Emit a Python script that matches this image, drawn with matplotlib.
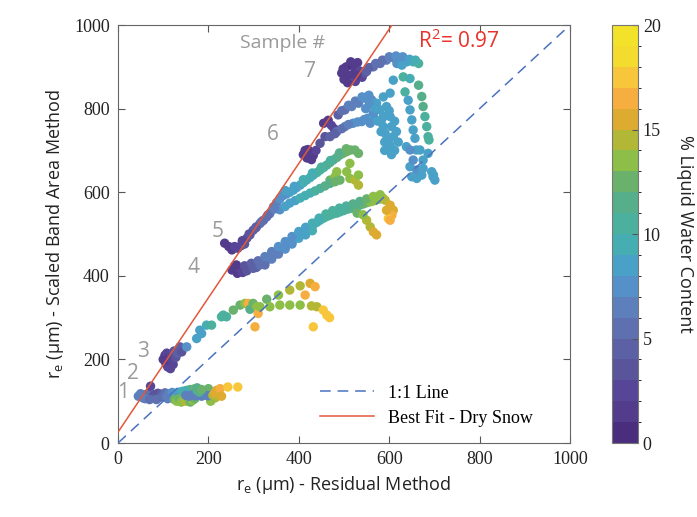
import matplotlib.pyplot as plt
from matplotlib.colors import ListedColormap, BoundaryNorm
from matplotlib.lines import Line2D

# colours of the 20 colorbar bins (0-1 ... 19-20)
bin_colors = ["#4b2d7e", "#533c8c", "#574697", "#5a549b", "#5c60a5",
              "#5e70b0", "#5d80bd", "#5590c8", "#4aa1c8", "#46adb3",
              "#4cb09e", "#56ae8a", "#6ab26c", "#8cbe48", "#b2b836",
              "#dcab30", "#f7ae40", "#f8c63a", "#f3dc2e", "#f2e22a"]

# sample 1 (lower band)
x1 = [45, 50, 55, 58, 62, 66, 70, 72, 76, 80, 84, 88, 92, 96, 100, 104, 108,
      112, 116, 120, 124, 128, 132, 136, 140, 144, 148, 152, 156, 160, 165, 170,
      60, 70, 85, 110, 130, 150, 175, 190, 200, 215, 205]
y1 = [112, 118, 108, 115, 110, 118, 113, 136, 108, 116, 111, 119, 109, 117,
      112, 120, 110, 118, 113, 121, 111, 119, 114, 122, 116, 124, 118, 126,
      121, 128, 124, 130,
      106, 104, 104, 106, 108, 124, 132, 124, 130, 108, 100]
w1 = [6, 6, 6, 6, 6, 5, 5, 2, 4, 3, 4, 3, 4, 4, 5, 5, 6, 6, 6, 7, 7, 8, 8, 8,
      9, 9, 10, 10, 10, 11, 11, 12,
      6, 5, 5, 6, 7, 9, 11, 11, 12, 14, 13]

# sample 2
x2 = [125, 130, 135, 140, 145, 150, 155, 160, 165, 170, 150, 157, 164, 171,
      178, 185, 192, 199, 206, 175, 180, 185, 210, 214, 218, 222, 226, 229,
      243, 265]
y2 = [104, 100, 106, 98, 103, 100, 105, 98, 102, 106, 114, 112, 115, 113,
      114, 112, 115, 113, 114, 126, 122, 128, 114, 120, 126, 118, 130, 112,
      134, 134]
w2 = [12, 13, 12, 13, 13, 14, 13, 12, 13, 12, 6, 6, 6, 6, 6, 6, 6, 6, 6, 11,
      11, 12, 14, 15, 15, 15, 16, 15, 17, 17]

# sample 3
x3 = [100, 104, 106, 108, 110, 112, 114, 116, 118, 120, 122, 124, 128, 132,
      137, 141, 152, 174, 185, 181, 196, 207, 229, 233, 240, 255, 270, 281,
      288, 292, 299, 307, 310, 303, 314, 329, 336, 355, 358, 380, 380, 403,
      403, 414, 425, 428, 436, 440, 454, 462, 468, 432]
y3 = [200, 210, 190, 215, 182, 205, 195, 178, 212, 200, 188, 220, 205, 215,
      230, 218, 230, 250, 262, 270, 282, 282, 302, 306, 302, 318, 330, 334,
      334, 320, 334, 326, 310, 278, 326, 344, 326, 354, 330, 366, 330, 376,
      330, 354, 382, 328, 374, 326, 318, 306, 300, 278]
w3 = [1, 1, 1, 2, 2, 1, 1, 2, 2, 2, 2, 3, 3, 4, 4, 3, 7, 8, 8, 8, 9, 10, 10,
      10, 10, 12, 12, 13, 16, 11, 12, 13, 16, 16, 13, 12, 13, 13, 13, 14, 13,
      14, 13, 16, 15, 14, 16, 14, 17, 17, 17, 17]

# sample 4
x4 = [252, 258, 264, 270, 276, 285, 290, 299, 306, 314, 321, 329, 336, 344,
      351, 358, 366, 373, 380, 388, 395, 403, 410, 417, 425, 432, 440, 447,
      455, 462, 469, 476, 484, 491, 499, 506, 513, 520, 528, 535, 543, 550,
      558, 565, 572, 580, 586, 591, 602, 609, 606, 598, 594, 602, 550, 558,
      565, 572, 529, 542, 325, 340, 355, 370, 385, 400, 415, 430,
      262, 280, 295, 310, 325, 340, 355, 370, 385, 400, 415, 430, 445, 460,
      475, 490, 505, 520, 535, 550, 565, 580]
y4 = [414, 424, 406, 418, 408, 412, 422, 418, 420, 426, 430, 438, 444, 450,
      456, 462, 468, 474, 480, 486, 494, 502, 506, 511, 516, 522, 528, 533,
      538, 542, 545, 548, 550, 553, 556, 559, 561, 563, 566, 569, 572, 575,
      577, 579, 582, 584, 586, 581, 569, 557, 545, 537, 557, 533, 533, 517,
      505, 498, 550, 546, 426, 440, 452, 464, 476, 490, 498, 508,
      426, 424, 430, 436, 446, 458, 470, 482, 494, 506, 516, 526, 538, 548,
      556, 562, 567, 572, 578, 584, 590, 594]
w4 = [1, 1, 1, 2, 2, 3, 3, 4, 4, 5, 5, 5, 6, 6, 6, 7, 7, 7, 7, 7, 8, 8, 8, 9,
      9, 9, 9, 9, 10, 10, 10, 10, 10, 10, 10, 10, 11, 11, 11, 11, 12, 12, 13,
      13, 13, 13, 14, 14, 15, 15, 16, 17, 15, 16, 14, 14, 15, 15, 12, 13, 5,
      6, 6, 7, 7, 8, 8, 9,
      1, 3, 4, 5, 6, 6, 7, 7, 7, 8, 8, 9, 9, 10, 10, 10, 10, 11, 11, 12, 13,
      13]

# sample 5
x5 = [236, 245, 252, 258, 265, 272, 280, 285, 292, 299, 306, 314, 322, 329,
      336, 344, 351, 358, 365, 373, 380, 388, 395, 403, 410, 417, 425, 432,
      440, 447, 455, 462, 469, 476, 484, 491, 498, 506, 515, 524, 532, 513,
      506, 513, 524, 532, 532, 484, 469, 480, 358, 370, 380, 392, 403, 414,
      425, 436, 447, 458, 469, 480, 491,
      275, 290, 305, 318, 332, 346, 370, 390, 410, 430, 450, 470, 490, 505]
y5 = [478, 470, 462, 470, 466, 472, 476, 490, 498, 509, 517, 525, 533, 541,
      549, 565, 575, 584, 592, 596, 600, 605, 611, 617, 623, 629, 635, 641,
      647, 653, 659, 665, 671, 677, 683, 689, 693, 697, 701, 701, 693, 669,
      649, 633, 629, 641, 617, 649, 629, 637, 558, 566, 574, 580, 586, 592,
      598, 603, 609, 615, 621, 625, 629,
      484, 500, 515, 530, 546, 560, 604, 614, 630, 646, 660, 676, 694, 704]
w5 = [1, 1, 1, 2, 2, 2, 3, 3, 4, 4, 4, 5, 5, 5, 6, 6, 6, 7, 7, 7, 8, 8, 8, 8,
      9, 9, 9, 9, 10, 10, 10, 10, 11, 11, 11, 11, 12, 12, 12, 12, 12, 13, 13,
      13, 14, 13, 14, 13, 12, 13, 7, 8, 8, 8, 9, 9, 9, 10, 10, 11, 11, 12, 12,
      2, 3, 4, 5, 5, 6, 8, 8, 9, 9, 10, 10, 11, 12]

# sample 6
x6 = [410, 418, 425, 432, 438, 420, 428, 414, 447, 458, 455, 465, 472, 478,
      469, 484, 502, 520, 539, 553, 565, 487, 502, 517, 532, 546, 561, 572,
      580, 587, 583, 587, 591, 594, 598, 565, 558, 587, 594, 602, 605, 609,
      602, 609, 602, 638, 660, 646, 661, 694, 697, 620, 612,
      548, 556, 570, 575, 582, 590, 600, 612, 616, 605, 590,
      495, 510, 525, 540, 555, 480, 495, 510, 530, 545]
y6 = [690, 682, 695, 688, 700, 702, 678, 700, 717, 733, 765, 772, 760, 752,
      733, 745, 757, 765, 769, 777, 781, 785, 797, 805, 813, 825, 821, 813,
      797, 781, 773, 757, 741, 725, 709, 789, 765, 828, 805, 781, 757, 733,
      713, 868, 837, 709, 701, 661, 633, 649, 637, 720, 700,
      800, 810, 800, 770, 745, 720, 795, 770, 745, 690, 700,
      795, 808, 818, 828, 832, 740, 752, 762, 768, 774]
w6 = [1, 1, 1, 1, 2, 1, 1, 1, 3, 3, 1, 1, 2, 2, 4, 5, 6, 7, 7, 7, 8, 4, 5, 6,
      6, 7, 7, 8, 8, 8, 8, 8, 8, 8, 9, 7, 7, 8, 8, 8, 8, 8, 8, 8, 8, 8, 8, 8,
      8, 8, 8, 8, 8,
      7, 7, 8, 8, 8, 8, 8, 8, 8, 8, 8,
      5, 6, 6, 7, 7, 4, 5, 6, 7, 7]

# sample 7
x7 = [495, 500, 505, 512, 518, 524, 530, 535, 540, 545, 525, 508, 550, 565,
      580, 594, 609, 624, 639, 653, 665, 617, 628, 631, 635, 642, 646, 650,
      653, 657, 646, 665, 672, 675, 679, 683, 686, 688, 646, 668, 686, 653,
      675, 661, 675, 650, 698, 701, 672,
      555, 570, 585, 600, 615, 630, 645, 658, 498, 515, 528]
y7 = [885, 870, 900, 880, 905, 895, 910, 890, 875, 885, 865, 862, 889, 900,
      908, 916, 922, 920, 912, 912, 908, 908, 904, 876, 840, 820, 797, 773,
      749, 729, 872, 856, 829, 805, 781, 757, 733, 725, 701, 701, 693, 677,
      677, 653, 657, 637, 641, 629, 641,
      898, 908, 916, 924, 926, 924, 918, 916, 895, 912, 880]
w7 = [1, 1, 1, 1, 0, 1, 1, 2, 2, 3, 2, 1, 4, 5, 5, 6, 6, 7, 8, 9, 10, 7, 8,
      10, 10, 8, 8, 8, 8, 8, 9, 11, 11, 11, 10, 10, 10, 10, 7, 8, 8, 7, 8, 7,
      8, 8, 8, 8, 8,
      4, 5, 5, 6, 7, 7, 8, 9, 1, 1, 1]

samples = [(x1, y1, w1), (x2, y2, w2), (x3, y3, w3), (x4, y4, w4),
           (x5, y5, w5), (x6, y6, w6), (x7, y7, w7)]

# sample number labels (x, y)
label_text = ["1", "2", "3", "4", "5", "6", "7"]
label_x = [11, 33, 55, 166, 220, 343, 425]
label_y = [122, 167, 218, 419, 505, 737, 888]

# best fit for dry snow
fit_slope = 1.607
fit_icept = 26
r2 = 0.97

serif = "Liberation Serif"
sans = "Open Sans"
dash = (0, (7, 4.5))

cmap = ListedColormap(bin_colors)
norm = BoundaryNorm(list(range(21)), cmap.N)

fig = plt.figure(figsize=(6.97, 5.17), dpi=100)
ax = fig.add_axes([0.1693, 0.1431, 0.6485, 0.8085])

for xs, ys, ws in samples:
    sc = ax.scatter(xs, ys, c=ws, cmap=cmap, norm=norm, s=46,
                    linewidths=0, zorder=2)

ax.plot([0, 1000], [0, 1000], ls=dash, color="#4a72c0", lw=1.1, zorder=3)
fit_x = [0, (1000 - fit_icept) / fit_slope]
ax.plot(fit_x, [fit_icept + fit_slope * v for v in fit_x], color="#e2583a",
        lw=1.1, zorder=3)

for t, lx, ly in zip(label_text, label_x, label_y):
    ax.text(lx, ly, t, color="#9a9a9a", fontsize=15, family=sans,
            ha="center", va="center")
ax.text(365, 957, "Sample #", color="#9a9a9a", fontsize=14, family=sans,
        ha="center", va="center")
ax.text(664, 962, "R$^\\mathregular{2}$= %.2f" % r2, color="#e8322a",
        fontsize=15, family=sans, ha="left", va="center")

ax.set_xlim(0, 1000)
ax.set_ylim(0, 1000)
ax.set_xticks(range(0, 1001, 200))
ax.set_yticks(range(0, 1001, 200))
ax.tick_params(direction="in", length=5, top=True, right=True,
               colors="#555555", labelcolor="#222222", labelsize=13,
               pad=6)
for lab in ax.get_xticklabels() + ax.get_yticklabels():
    lab.set_family(serif)
for sp in ax.spines.values():
    sp.set_color("#666666")

ax.set_xlabel("r$_\\mathregular{e}$ (µm) - Residual Method", family=sans,
              fontsize=13, color="#222222", labelpad=4)
ax.set_ylabel("r$_\\mathregular{e}$ (µm) - Scaled Band Area Method",
              family=sans, fontsize=13, color="#222222", labelpad=6)

handles = [Line2D([], [], ls=dash, color="#4a72c0", lw=1.1),
           Line2D([], [], color="#e2583a", lw=1.1)]
ax.legend(handles, ["1:1 Line", "Best Fit - Dry Snow"], loc="lower left",
          bbox_to_anchor=(0.41, 0.0), frameon=False, handlelength=3.0,
          prop={"family": serif, "size": 13}, labelspacing=0.45)

cax = fig.add_axes([0.878, 0.1431, 0.0373, 0.8085])
cb = fig.colorbar(sc, cax=cax, ticks=[0, 5, 10, 15, 20])
cb.outline.set_edgecolor("#777777")
cax.tick_params(direction="in", length=4, colors="#555555",
                labelcolor="#222222", labelsize=13)
for lab in cax.get_yticklabels():
    lab.set_family(serif)
cb.set_label("% Liquid Water Content", rotation=270, family=sans,
             fontsize=13, color="#222222", labelpad=24)

fig.savefig("out.png", dpi=100)
